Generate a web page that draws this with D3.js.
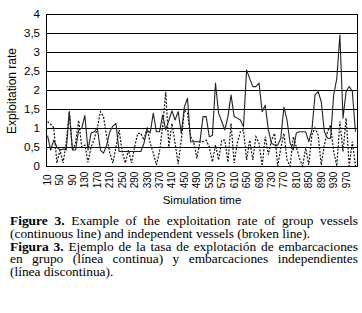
<!DOCTYPE html>
<html><head><meta charset="utf-8">
<script src="https://cdn.jsdelivr.net/npm/d3@7"></script>
<style>body{margin:0;background:#fff;} svg{display:block;}</style>
</head><body>
<svg id="c" width="362" height="313"></svg>
<script>
const categories = [10,20,30,40,50,60,70,80,90,100,110,120,130,140,150,160,170,180,190,200,
210,220,230,240,250,260,270,280,290,300,310,320,330,340,350,360,370,380,390,400,
410,420,430,440,450,460,470,480,490,500,510,520,530,540,550,560,570,580,590,600,
610,620,630,640,650,660,670,680,690,700,710,720,730,740,750,760,770,780,790,800,
810,820,830,840,850,860,870,880,890,900,910,920,930,940,950,960,970,980,990,1000];
const groupRate = [0.8,0.42,0.68,0.5,0.42,0.45,0.42,1.43,0.42,0.42,
0.95,1.0,1.33,0.42,0.87,0.9,1.0,0.42,0.34,0.55,
0.9,1.05,1.12,0.38,0.38,0.38,0.38,0.38,0.38,0.38,
0.38,0.6,0.95,0.87,1.39,0.9,0.9,1.34,0.95,1.2,
1.45,1.21,1.43,0.86,1.56,1.78,0.64,0.64,0.64,0.64,
1.3,1.3,0.77,0.8,2.18,1.39,1.17,0.95,1.3,1.87,
1.3,1.26,1.21,1.03,2.53,2.3,2.09,2.09,2.18,1.43,
1.6,0.95,0.6,0.55,0.55,0.73,1.55,1.21,0.6,0.42,
0.87,0.9,0.9,0.9,0.64,0.95,1.87,1.96,1.69,0.9,
0.73,0.73,1.87,2.3,3.45,1.26,1.96,2.09,1.96,0.9];
const independentRate = [1.17,1.1,1.0,0.08,0.42,0.08,0.6,1.43,0.42,0.6,
1.2,0.5,0.55,0.1,0.5,0.7,1.0,1.43,1.3,0.77,
0.35,0.08,0.5,0.95,0.38,0.08,0.42,0.08,0.5,0.86,
0.86,0.68,1.03,0.6,0.34,0.03,0.38,1.03,1.95,0.5,
1.12,0.6,0.05,0.68,1.47,1.39,0.77,0.64,0.2,0.64,
0.64,0.68,0.5,0.11,0.55,0.16,0.68,0.68,0.1,1.12,
0.08,0.6,0.9,0.95,0.16,0.68,0.16,0.77,0.6,0.0,
0.77,0.3,0.68,0.86,0.0,0.47,0.86,0.16,0.0,0.77,
0.5,0.2,0.0,0.47,0.03,0.82,1.0,0.82,0.03,0.55,
0.9,1.08,0.38,0.0,1.17,0.38,1.26,0.0,0.64,0.0];
const yTicks = [0,0.5,1,1.5,2,2.5,3,3.5,4];
const xTickLabels = [10,50,90,130,170,210,250,290,330,370,410,450,490,530,570,610,650,690,730,770,810,850,890,930,970];
const yTitle = "Exploitation rate";
const xTitle = "Simulation time";
const captionLines = [
  {bold:"Figure 3.", text:" Example of the exploitation rate of group vessels", justify:true},
  {bold:"", text:"(continuous line) and independent vessels (broken line).", justify:false},
  {bold:"Figura 3.", text:" Ejemplo de la tasa de explotación de embarcaciones", justify:true},
  {bold:"", text:"en grupo (línea continua) y embarcaciones independientes", justify:true},
  {bold:"", text:"(línea discontinua).", justify:false}
];

const svg = d3.select('#c');
const m = {l:46, r:357, t:14, b:166};
const x = d3.scaleBand().domain(categories).range([m.l, m.r]).padding(0);
const y = d3.scaleLinear().domain([0,4]).range([m.b, m.t]);
const cx = c => x(c) + x.bandwidth()/2;
const sans = "'Liberation Sans', Arial, sans-serif";

// gridlines
svg.append('g').selectAll('line').data(yTicks).join('line')
  .attr('x1', m.l).attr('x2', m.r)
  .attr('y1', d => Math.round(y(d)) + 0.5).attr('y2', d => Math.round(y(d)) + 0.5)
  .attr('stroke', '#000').attr('stroke-width', 1);
// plot borders left/right
svg.append('line').attr('x1', m.l+0.5).attr('x2', m.l+0.5).attr('y1', y(4)).attr('y2', y(0)+1).attr('stroke','#000');
svg.append('line').attr('x1', m.r+0.5).attr('x2', m.r+0.5).attr('y1', y(4)).attr('y2', y(0)+1).attr('stroke','#000');

// y axis
const yAxis = d3.axisLeft(y).tickValues(yTicks).tickSize(0).tickPadding(6)
  .tickFormat(d => String(d).replace('.', ','));
const gy = svg.append('g').attr('transform', `translate(${m.l},0)`).call(yAxis);
gy.select('.domain').remove();
gy.selectAll('text').attr('font-family', sans).attr('font-size', 11.5).attr('fill', '#000');

// x axis
const xAxis = d3.axisBottom(x).tickValues(xTickLabels).tickSize(0).tickPadding(0);
const gx = svg.append('g').attr('transform', `translate(0,${m.b})`).call(xAxis);
gx.select('.domain').remove();
gx.selectAll('text')
  .attr('y', 0).attr('dy', '0.35em')
  .attr('transform', 'translate(0,14) rotate(-90)')
  .attr('text-anchor', 'middle')
  .attr('font-family', sans).attr('font-size', 10).attr('fill', '#000');

// lines
const line = d3.line().x((d, i) => cx(categories[i])).y(d => y(d));
svg.append('path').datum(independentRate).attr('d', line)
  .attr('fill', 'none').attr('stroke', '#111').attr('stroke-width', 1.2)
  .attr('stroke-dasharray', '2,1.5');
svg.append('path').datum(groupRate).attr('d', line)
  .attr('fill', 'none').attr('stroke', '#222').attr('stroke-width', 1.1)
  .attr('stroke-linejoin', 'round');

// titles
svg.append('text').attr('transform', 'translate(16,91) rotate(-90)')
  .attr('text-anchor', 'middle').attr('font-family', sans).attr('font-size', 12)
  .text(yTitle);
svg.append('text').attr('x', 202).attr('y', 204)
  .attr('text-anchor', 'middle').attr('font-family', sans).attr('font-size', 11.5)
  .text(xTitle);

// caption
const capLeft = 10, capRight = 358;
const baselines = [225, 237.8, 250.6, 263.4, 276.2];
captionLines.forEach((ln, k) => {
  const t = svg.append('text').attr('x', capLeft).attr('y', baselines[k])
    .attr('font-family', "'Liberation Serif', 'Times New Roman', serif")
    .attr('font-size', 13.4).attr('fill', '#000');
  if (ln.bold) t.append('tspan').attr('font-weight', 'bold').text(ln.bold);
  t.append('tspan').text(ln.text);
  if (ln.justify) {
    const w = t.node().getComputedTextLength();
    const full = ln.bold + ln.text;
    const spaces = (full.match(/ /g) || []).length;
    if (spaces > 0) t.style('word-spacing', ((capRight - capLeft - w) / spaces) + 'px');
  }
});
</script>
</body></html>
